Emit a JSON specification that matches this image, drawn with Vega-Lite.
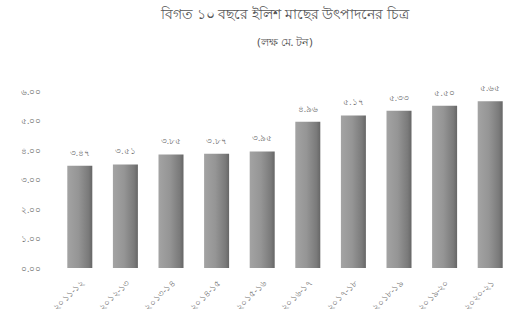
{
  "$schema": "https://vega.github.io/schema/vega-lite/v6.json",
  "width": 456,
  "height": 177,
  "autosize": {"type": "none"},
  "padding": {"left": 57, "top": 91, "right": 5, "bottom": 66},
  "background": "white",
  "config": {"view": {"stroke": null}, "font": "Noto Sans"},
  "title": {
    "text": "বিগত ১০ বছরে ইলিশ মাছের উৎপাদনের চিত্র",
    "subtitle": "(লক্ষ মে. টন)",
    "anchor": "middle",
    "fontSize": 14,
    "fontWeight": "normal",
    "color": "#555555",
    "subtitleFontSize": 11,
    "subtitleColor": "#555555",
    "subtitlePadding": 15,
    "offset": 36
  },
  "data": {
    "values": [
      {"year": "২০১১-১২", "value": 3.47, "label": "৩.৪৭"},
      {"year": "২০১২-১৩", "value": 3.51, "label": "৩.৫১"},
      {"year": "২০১৩-১৪", "value": 3.85, "label": "৩.৮৫"},
      {"year": "২০১৪-১৫", "value": 3.87, "label": "৩.৮৭"},
      {"year": "২০১৫-১৬", "value": 3.95, "label": "৩.৯৫"},
      {"year": "২০১৬-১৭", "value": 4.96, "label": "৪.৯৬"},
      {"year": "২০১৭-১৮", "value": 5.17, "label": "৫.১৭"},
      {"year": "২০১৮-১৯", "value": 5.33, "label": "৫.৩৩"},
      {"year": "২০১৯-২০", "value": 5.50, "label": "৫.৫০"},
      {"year": "২০২০-২১", "value": 5.65, "label": "৫.৬৫"}
    ]
  },
  "encoding": {
    "x": {
      "field": "year", "type": "nominal", "sort": null,
      "axis": {"title": null, "labelAngle": -45, "labelFontSize": 9, "labelColor": "#707070", "domain": false, "ticks": false, "labelPadding": 10}
    },
    "y": {
      "field": "value", "type": "quantitative",
      "scale": {"domain": [0, 6]},
      "axis": {
        "title": null, "values": [0, 1, 2, 3, 4, 5, 6], "grid": false, "domain": false, "ticks": false,
        "labelExpr": "['০.০০','১.০০','২.০০','৩.০০','৪.০০','৫.০০','৬.০০'][datum.value]",
        "labelFontSize": 9, "labelColor": "#707070", "labelPadding": 16
      }
    }
  },
  "layer": [
    {
      "mark": {
        "type": "bar", "size": 25,
        "color": {
          "gradient": "linear", "x1": 0, "x2": 1, "y1": 0, "y2": 0,
          "stops": [
            {"offset": 0, "color": "#a3a3a3"},
            {"offset": 0.45, "color": "#959595"},
            {"offset": 0.85, "color": "#7a7a7a"},
            {"offset": 1, "color": "#666666"}
          ]
        }
      }
    },
    {
      "mark": {"type": "text", "dy": -13, "fontSize": 8.5, "color": "#707070"},
      "encoding": {"text": {"field": "label"}}
    }
  ]
}
